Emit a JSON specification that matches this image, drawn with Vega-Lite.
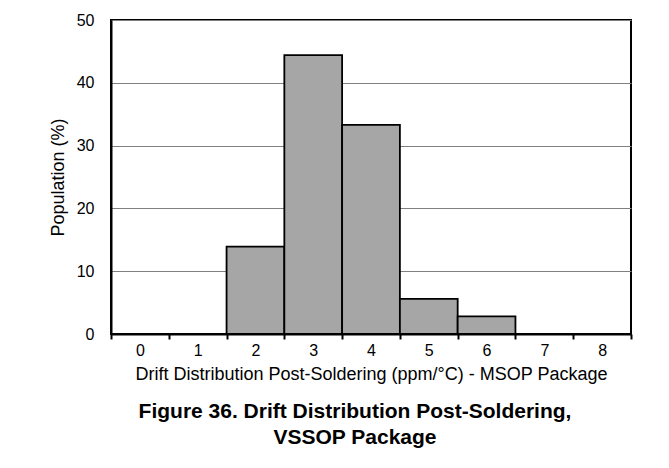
{
  "$schema": "https://vega.github.io/schema/vega-lite/v6.json",
  "width": 520,
  "height": 314,
  "autosize": {"type": "none"},
  "padding": {"left": 111, "top": 20, "right": 38, "bottom": 134},
  "background": "white",
  "data": {"values": [
    {"drift": "0", "population": 0},
    {"drift": "1", "population": 0},
    {"drift": "2", "population": 13.9},
    {"drift": "3", "population": 44.4},
    {"drift": "4", "population": 33.3},
    {"drift": "5", "population": 5.6},
    {"drift": "6", "population": 2.8},
    {"drift": "7", "population": 0},
    {"drift": "8", "population": 0}
  ]},
  "title": {
    "text": ["Figure 36. Drift Distribution Post-Soldering,", "VSSOP Package"],
    "orient": "bottom",
    "anchor": "middle",
    "offset": 18,
    "dx": -16,
    "font": "Liberation Sans",
    "fontSize": 21,
    "fontWeight": "bold",
    "color": "black",
    "lineHeight": 26
  },
  "mark": {"type": "bar", "fill": "#a6a6a6", "stroke": "black", "strokeWidth": 1.8},
  "encoding": {
    "x": {
      "field": "drift",
      "type": "ordinal",
      "sort": null,
      "scale": {"paddingInner": 0, "paddingOuter": 0},
      "axis": {
        "title": "Drift Distribution Post-Soldering (ppm/°C) - MSOP Package",
        "labelAngle": 0,
        "tickBand": "extent",
        "ticks": true,
        "tickSize": 5,
        "tickWidth": 2,
        "tickColor": "black",
        "domainColor": "black",
        "domainWidth": 2,
        "labelPadding": 3,
        "titlePadding": 7,
        "titleFontSize": 18
      }
    },
    "y": {
      "field": "population",
      "type": "quantitative",
      "scale": {"domain": [0, 50], "nice": false},
      "axis": {
        "title": "Population (%)",
        "values": [0, 10, 20, 30, 40, 50],
        "ticks": false,
        "grid": true,
        "gridColor": "#808080",
        "gridWidth": 1.2,
        "gridOpacity": 1,
        "domainColor": "black",
        "domainWidth": 2,
        "labelPadding": 17,
        "titlePadding": 9,
        "titleFontSize": 18
      }
    }
  },
  "config": {
    "view": {"stroke": "black", "strokeWidth": 2},
    "axis": {
      "labelFont": "Liberation Sans",
      "labelFontSize": 16,
      "labelColor": "black",
      "titleFont": "Liberation Sans",
      "titleFontWeight": "normal",
      "titleColor": "black"
    }
  }
}
